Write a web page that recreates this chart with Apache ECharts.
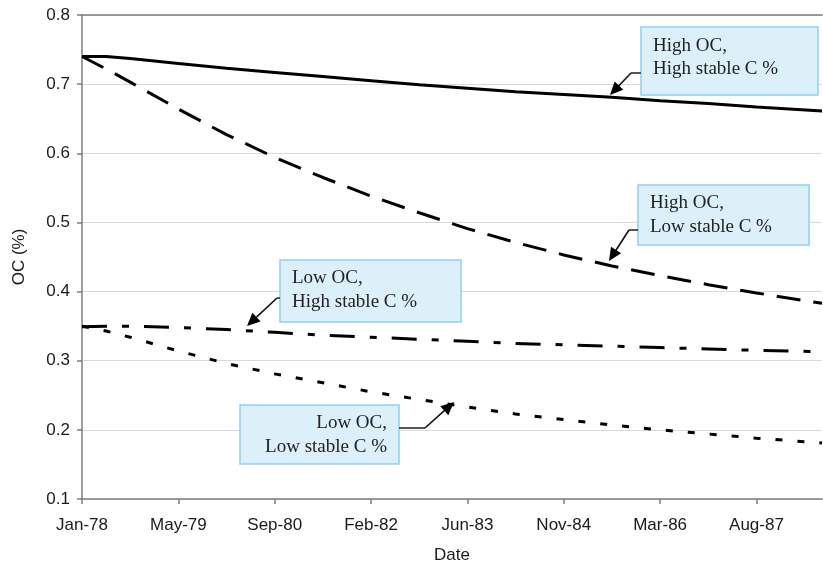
<!DOCTYPE html>
<html>
<head>
<meta charset="utf-8">
<script src="https://cdn.jsdelivr.net/npm/echarts@6/dist/echarts.min.js"></script>
<style>html,body{margin:0;padding:0;background:#fff;overflow:hidden}#c{width:823px;height:563px}</style>
</head>
<body>
<div id="c"></div>
<script>
// Days since 1 Jan 1978
const days = [0,125,250,500,750,1000,1250,1500,1750,2000,2250,2500,2750,3000,3250,3500,3840];
const highOcHighStable = [0.740,0.740,0.737,0.730,0.723,0.717,0.711,0.705,0.699,0.694,0.689,0.685,0.681,0.676,0.672,0.667,0.661];
const highOcLowStable  = [0.740,0.722,0.703,0.664,0.627,0.594,0.565,0.538,0.514,0.491,0.471,0.453,0.437,0.423,0.410,0.398,0.383];
const lowOcHighStable  = [0.349,0.350,0.350,0.348,0.345,0.341,0.337,0.334,0.331,0.328,0.325,0.323,0.321,0.319,0.317,0.315,0.313];
const lowOcLowStable   = [0.350,0.343,0.334,0.314,0.296,0.281,0.268,0.255,0.244,0.233,0.223,0.215,0.207,0.200,0.194,0.188,0.181];
const tickLabels = ['Jan-78','May-79','Sep-80','Feb-82','Jun-83','Nov-84','Mar-86','Aug-87'];

const pairs = vals => days.map((d,i)=>[d, vals[i]]);
const chart = echarts.init(document.getElementById('c'), null, {renderer:'canvas', width:823, height:563});
const axisFont = {fontFamily:'Liberation Sans, Arial', fontSize:17, color:'#1a1a1a'};

function arrow(pts) {
  const n = pts.length;
  const tip = pts[n-1], from = pts[n-2];
  const dx = tip[0]-from[0], dy = tip[1]-from[1];
  const L = Math.sqrt(dx*dx+dy*dy), ux = dx/L, uy = dy/L;
  const len = 13, half = 6;
  const bx = tip[0]-ux*len, by = tip[1]-uy*len;
  const head = [[tip[0],tip[1]],[bx - uy*half, by + ux*half],[bx + uy*half, by - ux*half]];
  const stemEnd = [tip[0]-ux*len*0.8, tip[1]-uy*len*0.8];
  return [
    {type:'polyline', shape:{points:[pts[0],pts[1]]}, style:{stroke:'#555', lineWidth:2, fill:null}, z:10},
    {type:'polyline', shape:{points:[pts[1],stemEnd]}, style:{stroke:'#111', lineWidth:1.6, fill:null}, z:10},
    {type:'polygon', shape:{points:head}, style:{fill:'#000'}, z:10}
  ];
}
function box(x,y,w,h) {
  return {type:'rect', shape:{x:x,y:y,width:w,height:h}, style:{fill:'#dcf0fa', stroke:'#8fd0f2', lineWidth:1.5}, z:9};
}
function txt(x,y,t,align) {
  return {type:'text', x:x, y:y, style:{text:t, fontFamily:'Liberation Serif, Times New Roman', fontSize:19, fill:'#222', align:align||'left', verticalAlign:'middle'}, z:11};
}

const graphics = [].concat(
  [box(641,27,177,68), txt(653,46,'High OC,'), txt(653,69,'High stable C %')],
  arrow([[641,73],[631,73],[610,95]]),
  [box(638,185,171,60), txt(650,203,'High OC,'), txt(650,227,'Low stable C %')],
  arrow([[638,230],[629,230],[609,261]]),
  [box(280,260,181,62), txt(292,278,'Low OC,'), txt(292,302,'High stable C %')],
  arrow([[280,298],[277,298],[247,326]]),
  [box(240,405,159,59), txt(387,423,'Low OC,','right'), txt(387,447,'Low stable C %','right')],
  arrow([[399,428],[425,428],[454,402]])
);

const lineStyleBase = {color:'#000', width:3};
chart.setOption({
  animation:false,
  grid:{left:82, right:1, top:15, bottom:64, containLabel:false, outerBoundsMode:'none'},
  xAxis:[{
    type:'value', min:0, max:3840, interval:500,
    name:'Date', nameLocation:'middle', nameGap:48, nameTextStyle:axisFont,
    axisLine:{show:true, lineStyle:{color:'#7f7f7f', width:1.5}},
    axisTick:{show:true, length:5, lineStyle:{color:'#7f7f7f', width:1.5}},
    axisLabel:Object.assign({margin:18, showMaxLabel:false, formatter:v => (v%500===0 ? (tickLabels[v/500]||'') : '')}, axisFont),
    splitLine:{show:false}
  },{
    type:'value', min:0, max:3840, position:'top',
    axisLine:{show:true, onZero:false, lineStyle:{color:'#7f7f7f', width:1.5}},
    axisTick:{show:false}, axisLabel:{show:false}, splitLine:{show:false}
  }],
  yAxis:{
    type:'value', min:0.1, max:0.8, interval:0.1,
    name:'OC (%)', nameLocation:'middle', nameGap:54, nameTextStyle:axisFont,
    axisLine:{show:true, lineStyle:{color:'#7f7f7f', width:1.5}},
    axisTick:{show:true, length:5, lineStyle:{color:'#7f7f7f', width:1.5}},
    axisLabel:Object.assign({margin:12, formatter:v => v.toFixed(1)}, axisFont),
    splitLine:{show:true, lineStyle:{color:'#d9d9d9', width:1}}
  },
  series:[
    {name:'High OC, High stable C %', type:'line', data:pairs(highOcHighStable), showSymbol:false, lineStyle:Object.assign({type:'solid'}, lineStyleBase), z:5},
    {name:'High OC, Low stable C %', type:'line', data:pairs(highOcLowStable), showSymbol:false, lineStyle:Object.assign({type:[24,13]}, lineStyleBase), z:5},
    {name:'Low OC, High stable C %', type:'line', data:pairs(lowOcHighStable), showSymbol:false, lineStyle:Object.assign({type:[25,15,7,15]}, lineStyleBase), z:5},
    {name:'Low OC, Low stable C %', type:'line', data:pairs(lowOcLowStable), showSymbol:false, lineStyle:Object.assign({type:[7,15]}, lineStyleBase), z:5}
  ],
  graphic:graphics
});
</script>
</body>
</html>
